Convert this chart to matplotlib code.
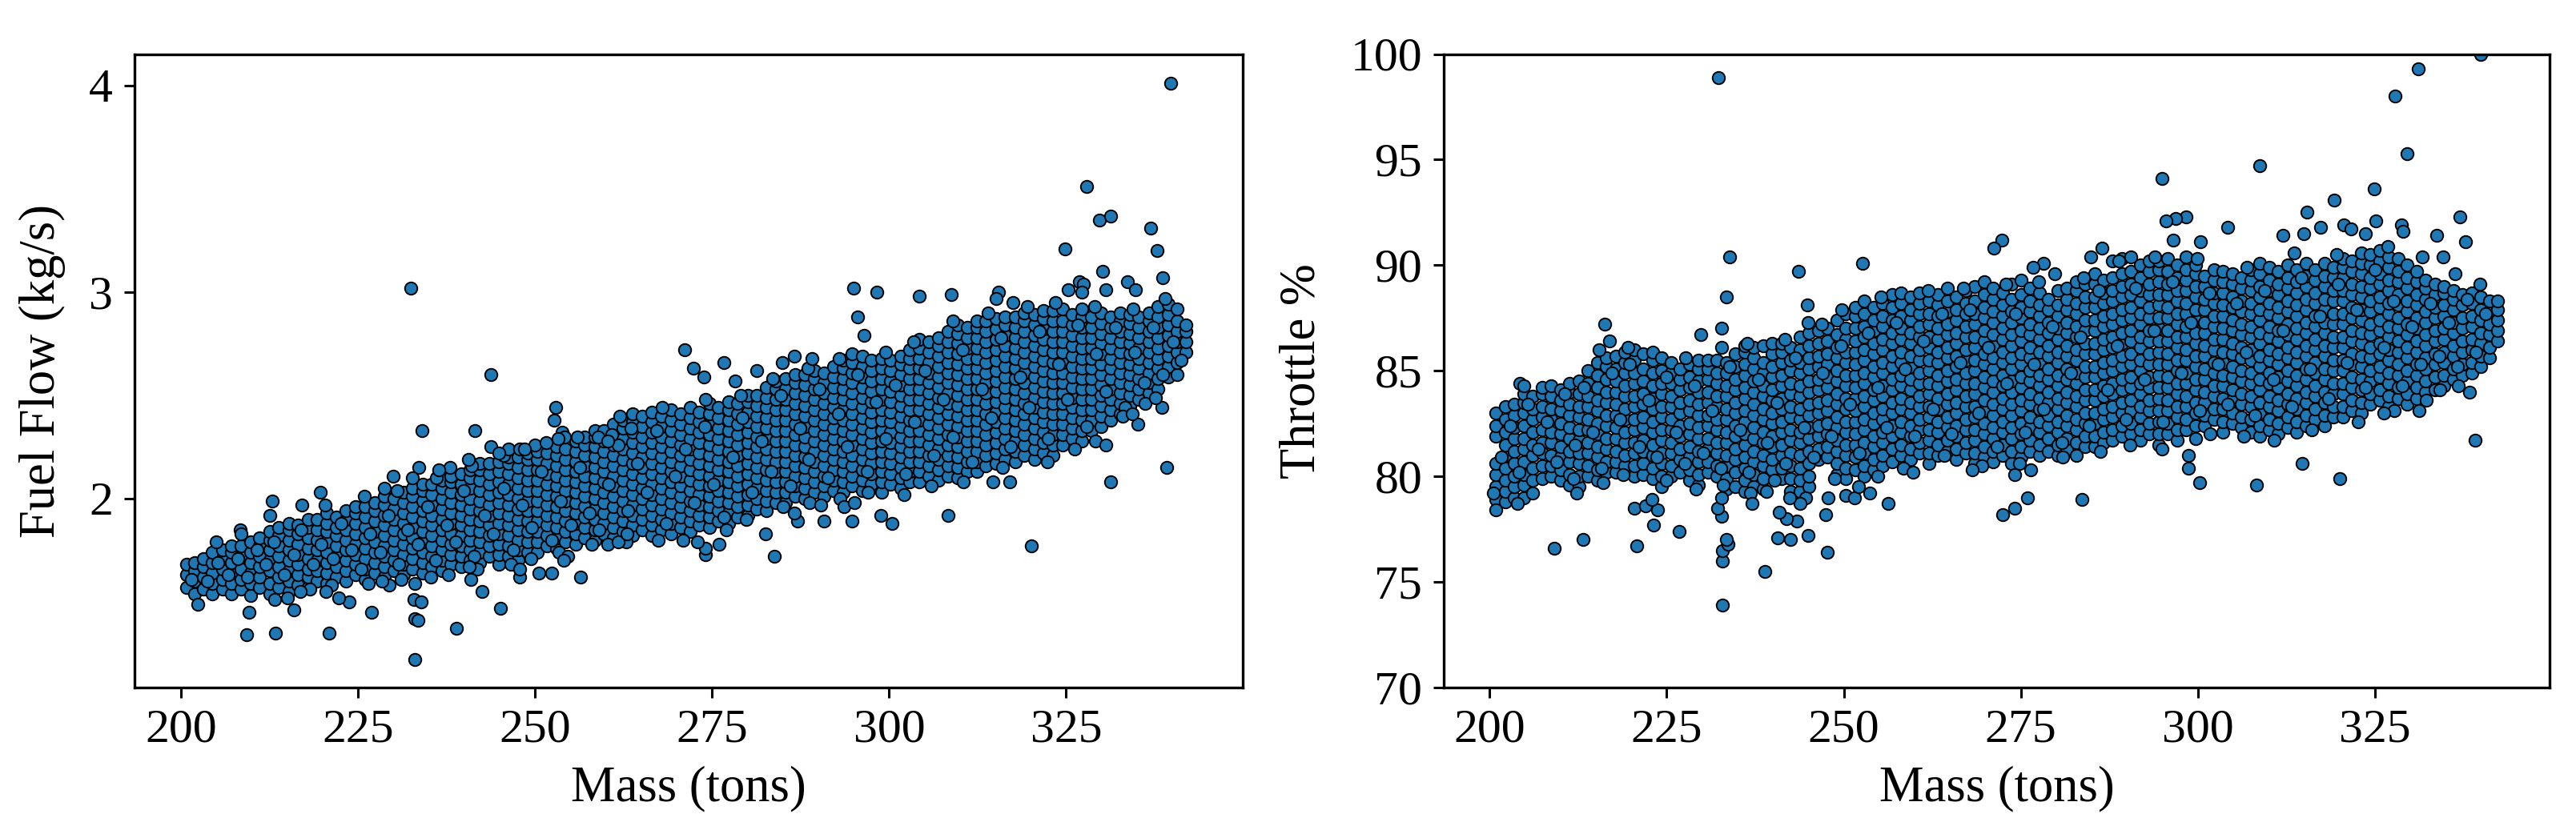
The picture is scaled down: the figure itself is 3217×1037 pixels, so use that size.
import matplotlib
matplotlib.use("Agg")
import matplotlib.pyplot as plt

# Values estimated by eye from the reference. Each column: (mass, value, value, ...)
fuel_cols_200 = [
 (200.8,1.57,1.63,1.68),(201.9,1.54,1.60,1.65,1.69),(203.1,1.56,1.62,1.67,1.71),
 (204.4,1.54,1.59,1.64,1.69,1.74),(205.8,1.56,1.61,1.66,1.71,1.75),(207.1,1.54,1.59,1.64,1.69,1.74,1.77),
 (208.5,1.56,1.61,1.66,1.72,1.77),(209.8,1.53,1.59,1.64,1.69,1.74,1.79),(211.1,1.57,1.62,1.67,1.72,1.77,1.81),
 (212.5,1.54,1.59,1.65,1.70,1.75,1.80,1.84),(213.8,1.57,1.62,1.67,1.72,1.77,1.82,1.86),(215.2,1.55,1.60,1.65,1.70,1.75,1.80,1.85,1.88),
 (216.5,1.58,1.63,1.68,1.73,1.78,1.83,1.87),(217.9,1.57,1.62,1.66,1.71,1.76,1.81,1.86,1.90),(219.2,1.60,1.65,1.70,1.75,1.80,1.85,1.90),
 (220.6,1.59,1.64,1.69,1.74,1.79,1.84,1.88,1.93),(221.9,1.62,1.67,1.72,1.77,1.82,1.86,1.91),(223.3,1.60,1.65,1.70,1.75,1.80,1.85,1.90,1.94),
]
fuel_cols_225 = [
 (224.6,1.63,1.68,1.73,1.78,1.83,1.88,1.93,1.96),(226.0,1.61,1.66,1.71,1.76,1.81,1.86,1.91,1.96),(227.3,1.64,1.69,1.74,1.79,1.84,1.89,1.94,1.98),
 (228.7,1.62,1.67,1.72,1.77,1.82,1.87,1.92,1.97,2.01),(230.0,1.65,1.70,1.75,1.80,1.85,1.90,1.95,2.00),(231.4,1.63,1.68,1.73,1.78,1.83,1.88,1.93,1.98,2.03),
 (232.7,1.66,1.71,1.76,1.81,1.86,1.91,1.96,2.01,2.05),(234.1,1.64,1.69,1.74,1.79,1.84,1.89,1.94,1.99,2.04,2.07),(235.4,1.67,1.72,1.77,1.82,1.87,1.92,1.97,2.02,2.07),
 (236.8,1.65,1.70,1.75,1.80,1.85,1.90,1.95,2.00,2.05,2.09),(238.1,1.68,1.73,1.78,1.83,1.88,1.93,1.98,2.03,2.08,2.11),(239.5,1.67,1.72,1.77,1.82,1.87,1.92,1.97,2.02,2.07,2.12),
 (240.8,1.70,1.75,1.80,1.85,1.90,1.95,2.00,2.05,2.10,2.14),(242.2,1.69,1.74,1.79,1.84,1.89,1.94,1.99,2.04,2.09,2.14,2.17),(243.5,1.72,1.77,1.82,1.87,1.92,1.97,2.02,2.07,2.12,2.17),
 (244.9,1.68,1.73,1.78,1.83,1.88,1.93,1.98,2.03,2.08,2.13,2.18),(246.2,1.72,1.77,1.82,1.87,1.92,1.97,2.02,2.07,2.12,2.17,2.20),(247.6,1.70,1.75,1.80,1.85,1.90,1.95,2.00,2.05,2.10,2.15,2.20),
 (248.9,1.74,1.79,1.84,1.89,1.94,1.99,2.04,2.09,2.14,2.19,2.22),
]
fuel_cols_250 = [
 (250.3,1.74,1.79,1.84,1.89,1.94,1.99,2.04,2.09,2.14,2.19,2.23),(251.6,1.77,1.82,1.87,1.92,1.97,2.02,2.07,2.12,2.17,2.22),(253.0,1.76,1.81,1.86,1.91,1.96,2.01,2.06,2.11,2.16,2.21,2.25),
 (254.3,1.79,1.84,1.89,1.94,1.99,2.04,2.09,2.14,2.19,2.24),(255.7,1.78,1.83,1.88,1.93,1.98,2.03,2.08,2.13,2.18,2.23,2.28),(257.0,1.81,1.86,1.91,1.96,2.01,2.06,2.11,2.16,2.21,2.26,2.30),
 (258.4,1.80,1.85,1.90,1.95,2.00,2.05,2.10,2.15,2.20,2.25,2.30,2.33),(259.7,1.83,1.88,1.93,1.98,2.03,2.08,2.13,2.18,2.23,2.28,2.33),(261.1,1.81,1.86,1.91,1.96,2.01,2.06,2.11,2.16,2.21,2.26,2.31,2.36),
 (262.4,1.84,1.89,1.94,1.99,2.04,2.09,2.14,2.19,2.24,2.29,2.34,2.38),(263.8,1.82,1.87,1.92,1.97,2.02,2.07,2.12,2.17,2.22,2.27,2.32,2.37,2.41),(265.1,1.85,1.90,1.95,2.00,2.05,2.10,2.15,2.20,2.25,2.30,2.35,2.40),
 (266.5,1.82,1.87,1.92,1.97,2.02,2.07,2.12,2.17,2.22,2.27,2.32,2.37,2.42),(267.8,1.85,1.90,1.95,2.00,2.05,2.10,2.15,2.20,2.25,2.30,2.35,2.40),(269.2,1.83,1.88,1.93,1.98,2.03,2.08,2.13,2.18,2.23,2.28,2.33,2.38,2.43),
 (270.5,1.86,1.91,1.96,2.01,2.06,2.11,2.16,2.21,2.26,2.31,2.36,2.41),(271.9,1.84,1.89,1.94,1.99,2.04,2.09,2.14,2.19,2.24,2.29,2.34,2.39,2.44),(273.2,1.87,1.92,1.97,2.02,2.07,2.12,2.17,2.22,2.27,2.32,2.37,2.42),
]
fuel_cols_275 = [
 (274.6,1.86,1.91,1.96,2.01,2.06,2.11,2.16,2.21,2.26,2.31,2.36,2.41,2.46),(275.9,1.89,1.94,1.99,2.04,2.09,2.14,2.19,2.24,2.29,2.34,2.39,2.44),(277.3,1.88,1.93,1.98,2.03,2.08,2.13,2.18,2.23,2.28,2.33,2.38,2.43,2.47),
 (278.6,1.91,1.96,2.01,2.06,2.11,2.16,2.21,2.26,2.31,2.36,2.41,2.46),(280.0,1.92,1.97,2.02,2.07,2.12,2.17,2.22,2.27,2.32,2.37,2.42,2.47,2.50),(281.3,1.95,2.00,2.05,2.10,2.15,2.20,2.25,2.30,2.35,2.40,2.45,2.50),
 (282.7,1.94,1.99,2.04,2.09,2.14,2.19,2.24,2.29,2.34,2.39,2.44,2.49,2.54),(284.0,1.98,2.03,2.08,2.13,2.18,2.23,2.28,2.33,2.38,2.43,2.48,2.53,2.57),(285.4,1.98,2.03,2.08,2.13,2.18,2.23,2.28,2.33,2.38,2.43,2.48,2.53,2.58),
 (286.7,2.01,2.06,2.11,2.16,2.21,2.26,2.31,2.36,2.41,2.46,2.51,2.56,2.60),(288.1,2.00,2.05,2.10,2.15,2.20,2.25,2.30,2.35,2.40,2.45,2.50,2.55,2.60),(289.4,2.03,2.08,2.13,2.18,2.23,2.28,2.33,2.38,2.43,2.48,2.53,2.58,2.62),
 (290.8,2.01,2.06,2.11,2.16,2.21,2.26,2.31,2.36,2.41,2.46,2.51,2.56,2.61),(292.1,2.04,2.09,2.14,2.19,2.24,2.29,2.34,2.39,2.44,2.49,2.54,2.59,2.64),(293.5,2.03,2.08,2.13,2.18,2.23,2.28,2.33,2.38,2.43,2.48,2.53,2.58,2.63,2.67),
 (294.8,2.06,2.11,2.16,2.21,2.26,2.31,2.36,2.41,2.46,2.51,2.56,2.61,2.66,2.70),(296.2,2.04,2.09,2.14,2.19,2.24,2.29,2.34,2.39,2.44,2.49,2.54,2.59,2.64,2.69),(297.5,2.07,2.12,2.17,2.22,2.27,2.32,2.37,2.42,2.47,2.52,2.57,2.62,2.67),
 (298.9,2.03,2.08,2.13,2.18,2.23,2.28,2.33,2.38,2.43,2.48,2.53,2.58,2.63,2.68),
]
fuel_cols_300 = [
 (300.2,2.07,2.12,2.17,2.22,2.27,2.32,2.37,2.42,2.47,2.52,2.57,2.62,2.67),(301.6,2.05,2.10,2.15,2.20,2.25,2.30,2.35,2.40,2.45,2.50,2.55,2.60,2.65,2.69),(302.9,2.08,2.13,2.18,2.23,2.28,2.33,2.38,2.43,2.48,2.53,2.58,2.63,2.68,2.72),
 (304.3,2.08,2.13,2.18,2.23,2.28,2.33,2.38,2.43,2.48,2.53,2.58,2.63,2.68,2.73,2.77),(305.6,2.11,2.16,2.21,2.26,2.31,2.36,2.41,2.46,2.51,2.56,2.61,2.66,2.71,2.76),(307.0,2.09,2.14,2.19,2.24,2.29,2.34,2.39,2.44,2.49,2.54,2.59,2.64,2.69,2.74,2.78),
 (308.3,2.11,2.16,2.21,2.26,2.31,2.36,2.41,2.46,2.51,2.56,2.61,2.66,2.71,2.76,2.81),(309.7,2.10,2.15,2.20,2.25,2.30,2.35,2.40,2.45,2.50,2.55,2.60,2.65,2.70,2.75,2.80,2.84),(311.0,2.13,2.18,2.23,2.28,2.33,2.38,2.43,2.48,2.53,2.58,2.63,2.68,2.73,2.78,2.83),
 (312.4,2.13,2.18,2.23,2.28,2.33,2.38,2.43,2.48,2.53,2.58,2.63,2.68,2.73,2.78,2.83,2.86),(313.7,2.16,2.21,2.26,2.31,2.36,2.41,2.46,2.51,2.56,2.61,2.66,2.71,2.76,2.81,2.86),(315.1,2.17,2.22,2.27,2.32,2.37,2.42,2.47,2.52,2.57,2.62,2.67,2.72,2.77,2.82,2.87),
 (316.4,2.19,2.24,2.29,2.34,2.39,2.44,2.49,2.54,2.59,2.64,2.69,2.74,2.79,2.84,2.88),(317.8,2.18,2.23,2.28,2.33,2.38,2.43,2.48,2.53,2.58,2.63,2.68,2.73,2.78,2.83,2.88),(319.1,2.21,2.26,2.31,2.36,2.41,2.46,2.51,2.56,2.61,2.66,2.71,2.76,2.81,2.86,2.90),
 (320.5,2.19,2.24,2.29,2.34,2.39,2.44,2.49,2.54,2.59,2.64,2.69,2.74,2.79,2.84,2.89),(321.8,2.22,2.27,2.32,2.37,2.42,2.47,2.52,2.57,2.62,2.67,2.72,2.77,2.82,2.87,2.91),(323.2,2.21,2.26,2.31,2.36,2.41,2.46,2.51,2.56,2.61,2.66,2.71,2.76,2.81,2.86,2.91),
]
fuel_cols_325 = [
 (324.5,2.26,2.31,2.36,2.41,2.46,2.51,2.56,2.61,2.66,2.71,2.76,2.81,2.86,2.92),(325.9,2.29,2.34,2.39,2.44,2.49,2.54,2.59,2.64,2.69,2.74,2.79,2.84,2.89),(327.2,2.28,2.33,2.38,2.43,2.48,2.53,2.58,2.63,2.68,2.73,2.78,2.83,2.88,2.92),
 (328.6,2.33,2.38,2.43,2.48,2.53,2.58,2.63,2.68,2.73,2.78,2.83,2.88),(329.9,2.35,2.40,2.45,2.50,2.55,2.60,2.65,2.70,2.75,2.80,2.85,2.90),(331.3,2.38,2.43,2.48,2.53,2.58,2.63,2.68,2.73,2.78,2.83,2.88),
 (332.6,2.41,2.46,2.51,2.56,2.61,2.66,2.71,2.76,2.81,2.86,2.90),(334.0,2.45,2.50,2.55,2.60,2.65,2.70,2.75,2.80,2.85,2.89),(335.3,2.48,2.53,2.58,2.63,2.68,2.73,2.78,2.83,2.88),
 (336.7,2.51,2.56,2.61,2.66,2.71,2.76,2.81,2.86,2.90),(338.0,2.53,2.58,2.63,2.68,2.73,2.78,2.83,2.88,2.93),(339.4,2.59,2.64,2.69,2.74,2.79,2.84,2.89,2.94),
 (340.7,2.60,2.66,2.71,2.76,2.81,2.86,2.92),(341.9,2.71,2.76,2.81,2.84),
]
fuel_outliers = [
 (339.8,4.01),(327.9,3.51),(329.7,3.35),(331.3,3.37),(337,3.31),(324.9,3.21),(337.9,3.20),(330.2,3.10),(338.7,3.07),(326.9,3.05),
 (333.7,3.05),(334.8,3.01),(327.5,3.04),(330.6,3.01),(325.3,3.01),(327.2,3.0),(295,3.02),(298.3,3.0),(304.3,2.98),(308.8,2.99),
 (315.4,3.0),(315.1,2.97),(317.5,2.95),(295.6,2.88),(296.5,2.79),(271.1,2.72),(272.4,2.63),(273.8,2.59),(276.7,2.66),(278.2,2.57),
 (281.3,2.62),(284.9,2.66),(286.6,2.69),(289.1,2.68),(320.1,1.77),(331.3,2.08),(339.2,2.15),(308.3,1.92),(283.8,1.72),(300.4,1.88),
 (298.8,1.92),(294.7,1.89),(290.8,1.89),(287.1,1.89),(286.6,1.93),(290.3,1.97),(293.6,1.96),(295.1,1.98),(274.1,1.73),(274.1,1.76),
 (276,1.78),(272.9,1.79),(282.5,1.83),(314.7,2.08),(317,2.08),(329.1,2.28),(330.6,2.26),(335.1,2.36),(334.3,2.41),(338.5,2.44),
 (337.6,2.49),(232.4,3.02),(243.7,2.60),(252.9,2.44),(252.7,2.38),(234,2.33),(241.5,2.33),(253.8,2.32),(254.2,2.30),(253.2,2.29),
 (251.5,2.27),(258.9,2.30),(260.8,2.31),(263.5,2.34),(260.2,2.28),(243.7,2.25),(246.2,2.24),(247.8,2.24),(248.5,2.24),(240.6,2.19),
 (244.9,2.22),(238,2.15),(236.4,2.14),(233.6,2.15),(229.9,2.11),(232.7,2.10),(212.8,1.99),(212.5,1.92),(217,1.97),(219.6,2.03),
 (220.3,1.97),(225.9,2.01),(228.7,2.05),(208.3,1.85),(208.4,1.83),(204.9,1.79),(202.3,1.49),(209.6,1.45),(209.2,1.34),(213.3,1.35),
 (215.9,1.46),(220.9,1.35),(226.9,1.45),(233,1.22),(233,1.42),(233.5,1.41),(232.9,1.51),(233.9,1.50),(233,1.59),(238.9,1.37),
 (245.1,1.47),(242.5,1.55),(240.9,1.61),(240.7,1.67),(223.7,1.50),(222.2,1.52),(213.2,1.51),(216.8,1.55),(220.4,1.55),(229.4,1.58),
 (228.3,1.60),(256.4,1.62),(252.3,1.64),(250.5,1.64),(247.8,1.62),(247.8,1.66),(260.2,1.78),(261.7,1.79),(263,1.83),(254.6,1.72),(254,1.70),
]
fuel_texture = [
 (201.4,1.61),(203.7,1.60),(205.2,1.69),(206.6,1.63),(208.0,1.71),(209.3,1.62),(210.7,1.75),(212.0,1.68),(213.1,1.79),(214.6,1.63),(215.9,1.73),(216.9,1.85),(218.6,1.68),(219.8,1.78),(221.4,1.71),(222.6,1.88),(224.0,1.75),(225.4,1.66),
 (226.7,1.83),(228.1,1.74),(229.3,1.92),(230.7,1.68),(232.0,1.85),(233.4,1.78),(234.8,1.96),(235.9,1.70),(237.5,1.87),(238.8,1.79),(239.9,2.04),(241.4,1.72),(242.8,1.92),(244.1,1.83),(245.6,2.05),(246.9,1.75),(248.2,1.97),(249.5,1.86),
 (250.9,2.13),(252.3,1.80),(253.6,1.99),(255.0,1.87),(256.3,2.15),(257.7,1.93),(259.0,1.85),(260.4,2.07),(261.7,2.26),(263.1,1.94),(264.4,2.17),(265.8,2.03),(267.1,2.33),(268.5,1.88),(269.8,2.11),(271.2,2.24),(272.5,1.98),(273.9,2.35),
 (275.2,2.07),(276.6,1.91),(277.9,2.20),(279.3,2.39),(280.6,2.03),(282.0,2.28),(283.3,2.13),(284.7,2.50),(286.0,2.06),(287.4,2.34),(288.7,2.19),(290.1,2.53),(291.4,2.10),(292.8,2.41),(294.1,2.25),(295.5,2.60),(296.9,2.13),(298.2,2.47),
 (299.5,2.29),(300.9,2.55),(302.3,2.12),(303.6,2.37),(305.0,2.62),(306.3,2.21),(307.7,2.48),(309.0,2.30),(310.4,2.72),(311.7,2.18),(313.1,2.53),(314.4,2.39),(315.8,2.78),(317.1,2.25),(318.5,2.59),(319.8,2.44),(321.2,2.81),(322.5,2.29),
 (323.9,2.65),(325.2,2.48),(326.6,2.84),(327.9,2.35),(329.3,2.70),(330.6,2.52),(332.0,2.83),(333.3,2.44),(334.7,2.71),(336.0,2.56),(337.3,2.83),(338.7,2.60),(340.1,2.76),(341.3,2.67),
 (215.0,1.52),(218.2,1.56),(221.2,1.58),(226.4,1.59),(231.1,1.61),(235.2,1.62),(237.7,1.63),(241.8,1.66),(246.6,1.68),(249.4,1.71),(253.4,1.74),(258.0,1.78),(262.9,1.79),(267.4,1.80),(270.9,1.80),(277.0,1.85),(279.8,1.90),(285.0,1.96),(288.8,1.98),(293.1,2.00),(297.0,2.03),(302.1,2.02),(305.9,2.06),(310.5,2.08),(316.0,2.15),(322.4,2.18),(326.2,2.24),(333.0,2.40),(336.2,2.46),
 (230.5,2.04),(236.0,2.10),(241.0,2.16),(245.5,2.21),(250.0,2.26),(256.0,2.30),(262.0,2.40),(268.0,2.44),(274.0,2.48),(279.0,2.50),(283.5,2.58),(288.5,2.63),(293.0,2.68),(299.5,2.71),(303.5,2.76),(309.0,2.86),(314.0,2.90),(319.5,2.93),(323.5,2.95),(329.0,2.93),(334.5,2.92),(339.0,2.97),
]

throttle_cols_200 = [
 (200.9,78.9,79.5,80.1,80.6,81.9,82.4,83.0),(202.2,78.8,79.3,79.8,80.4,81.0,81.5,82.1,82.7,83.3),(203.5,79.0,79.5,80.0,80.6,81.2,81.8,82.3,82.9,83.4),
 (204.8,79.0,79.6,80.1,80.7,81.3,81.8,82.4,83.0,83.5,83.9),(206.1,79.2,79.8,80.4,81.0,81.5,82.1,82.7,83.2,83.8),(207.4,79.9,80.5,81.1,81.6,82.2,82.8,83.3,83.9,84.2),
 (208.7,80.0,80.5,81.0,81.6,82.1,82.7,83.2,83.8,84.3),(210.0,79.8,80.3,80.9,81.4,82.0,82.5,83.1,83.6,84.1),(211.3,79.6,80.1,80.7,81.2,81.8,82.3,82.9,83.4,84.0,84.4),
 (212.6,79.5,80.0,80.6,81.1,81.7,82.2,82.8,83.3,83.9,84.5),(213.9,80.0,80.5,81.1,81.6,82.2,82.7,83.3,83.8,84.4,85.0),(215.2,79.8,80.3,80.9,81.4,82.0,82.5,83.1,83.6,84.2,84.8,85.4),
 (216.5,80.2,80.7,81.3,81.8,82.4,82.9,83.5,84.0,84.6,85.2,85.6),(217.8,80.2,80.7,81.2,81.8,82.3,82.9,83.4,84.0,84.5,85.1,85.7),(219.1,80.5,81.0,81.6,82.1,82.7,83.2,83.8,84.3,84.9,85.4,85.9),
 (220.4,80.0,80.5,81.1,81.6,82.2,82.7,83.3,83.8,84.4,84.9,85.5,86.0),(221.7,80.1,80.6,81.2,81.7,82.3,82.8,83.4,83.9,84.5,85.1,85.8),(223.0,79.9,80.4,81.0,81.5,82.1,82.6,83.2,83.7,84.3,84.9,85.5,85.9),
 (224.3,79.5,80.0,80.6,81.1,81.7,82.2,82.8,83.3,83.9,84.4,85.0,85.6),
]
throttle_cols_225 = [
 (225.6,80.0,80.5,81.1,81.6,82.2,82.7,83.3,83.8,84.4,84.9,85.4),(226.9,80.2,80.8,81.3,81.9,82.4,83.0,83.5,84.1,84.6,85.1),(228.2,79.8,80.3,80.9,81.4,82.0,82.5,83.1,83.6,84.2,84.7,85.3),
 (229.5,79.6,80.1,80.7,81.2,81.8,82.3,82.9,83.4,84.0,84.5,85.1,85.5),(230.8,80.2,80.7,81.3,81.8,82.4,82.9,83.5,84.0,84.6,85.1,85.5),(232.1,80.0,80.5,81.1,81.6,82.2,82.7,83.3,83.8,84.4,84.9,85.5),
 (233.4,79.4,79.9,80.5,81.0,81.6,82.1,82.7,83.2,83.8,84.3,84.9,85.4),(234.7,79.5,80.2,80.8,81.3,81.9,82.4,83.0,83.5,84.1,84.6,85.2,85.8),(236.0,79.3,79.8,80.4,80.9,81.5,82.0,82.6,83.1,83.7,84.2,84.8,85.3,85.9,86.2),
 (237.3,79.5,80.1,80.7,81.2,81.8,82.3,82.9,83.4,84.0,84.5,85.1,85.6,86.1),(238.6,79.4,79.9,80.5,81.0,81.6,82.1,82.7,83.2,83.8,84.3,84.9,85.4,86.2),(239.9,80.3,80.8,81.4,81.9,82.5,83.0,83.6,84.1,84.7,85.2,85.8,86.3),
 (241.2,79.9,80.4,81.0,81.5,82.1,82.6,83.2,83.7,84.3,84.8,85.4,85.9,86.3),(242.5,79.3,79.9,80.5,81.1,81.7,82.2,82.8,83.3,83.9,84.4,85.0,85.5,86.1),(243.8,79.3,79.8,80.4,81.0,81.6,82.1,82.7,83.2,83.8,84.3,84.9,85.4,86.0,86.6),
 (245.1,79.5,80.0,80.6,81.2,81.8,82.3,82.9,83.4,84.0,84.5,85.1,85.6,86.2,86.8),(246.4,80.8,81.3,81.9,82.4,83.0,83.5,84.1,84.6,85.2,85.7,86.3,86.9),(247.7,80.9,81.4,82.0,82.5,83.1,83.6,84.2,84.7,85.3,85.8,86.4,87.0),
 (249.0,80.1,80.6,81.2,81.7,82.3,82.8,83.4,83.9,84.5,85.0,85.6,86.1,86.7,87.4),
]
throttle_cols_250 = [
 (250.3,79.9,80.4,81.0,81.5,82.1,82.6,83.2,83.7,84.3,84.8,85.4,85.9,86.5,87.0,87.7),(251.6,80.3,80.9,81.5,82.0,82.6,83.1,83.7,84.2,84.8,85.3,85.9,86.4,87.0,87.6,88.0),(252.9,80.0,80.5,81.1,81.6,82.2,82.7,83.3,83.8,84.4,84.9,85.5,86.0,86.6,87.1,87.7,88.3),
 (254.2,80.3,80.8,81.4,81.9,82.5,83.0,83.6,84.1,84.7,85.2,85.8,86.3,86.9,87.4,88.0),(255.5,80.5,81.0,81.6,82.1,82.7,83.2,83.8,84.3,84.9,85.4,86.0,86.5,87.1,87.6,88.2),(256.8,80.7,81.3,81.9,82.4,83.0,83.5,84.1,84.6,85.2,85.7,86.3,86.8,87.4,88.0,88.6),
 (258.1,81.0,81.5,82.1,82.6,83.2,83.7,84.3,84.8,85.4,85.9,86.5,87.0,87.6,88.2,88.7),(259.4,80.8,81.3,81.9,82.4,83.0,83.5,84.1,84.6,85.2,85.7,86.3,86.8,87.4,87.9,88.5),(260.7,81.1,81.6,82.2,82.7,83.3,83.8,84.4,84.9,85.5,86.0,86.6,87.1,87.7,88.2,88.7),
 (262.0,80.6,81.1,81.7,82.2,82.8,83.3,83.9,84.4,85.0,85.5,86.1,86.6,87.2,87.7,88.3),(263.3,81.0,81.5,82.1,82.6,83.2,83.7,84.3,84.8,85.4,85.9,86.5,87.0,87.6,88.1,88.6),(264.6,81.2,81.7,82.3,82.8,83.4,83.9,84.5,85.0,85.6,86.1,86.7,87.2,87.8,88.3,88.9),
 (265.9,80.8,81.3,81.9,82.4,83.0,83.5,84.1,84.6,85.2,85.7,86.3,86.8,87.4,87.9,88.5),(267.2,81.1,81.6,82.2,82.7,83.3,83.8,84.4,84.9,85.5,86.0,86.6,87.1,87.7,88.2,88.8),(268.5,80.6,81.1,81.7,82.2,82.8,83.3,83.9,84.4,85.0,85.5,86.1,86.6,87.2,87.7,88.3,89.0),
 (269.8,80.9,81.4,82.0,82.5,83.1,83.6,84.2,84.7,85.3,85.8,86.4,86.9,87.5,88.0,88.6,89.2),(271.1,80.7,81.2,81.8,82.3,82.9,83.4,84.0,84.5,85.1,85.6,86.2,86.7,87.3,87.8,88.4,88.9),(272.4,81.0,81.5,82.1,82.6,83.2,83.7,84.3,84.8,85.4,85.9,86.5,87.0,87.6,88.1,88.7),
 (273.7,80.6,81.2,81.8,82.3,82.9,83.4,84.0,84.5,85.1,85.6,86.2,86.7,87.3,87.8,88.4,89.1),
]
throttle_cols_275 = [
 (275.0,80.9,81.4,82.0,82.5,83.1,83.6,84.2,84.7,85.3,85.8,86.4,86.9,87.5,88.0,88.6,89.3),(276.3,81.2,81.7,82.3,82.8,83.4,83.9,84.5,85.0,85.6,86.1,86.7,87.2,87.8,88.3,88.9),(277.6,81.0,81.5,82.1,82.6,83.2,83.7,84.3,84.8,85.4,85.9,86.5,87.0,87.6,88.1,88.7),
 (278.9,81.2,81.8,82.4,82.9,83.5,84.0,84.6,85.1,85.7,86.2,86.8,87.3,87.9,88.4),(280.2,81.0,81.5,82.1,82.6,83.2,83.7,84.3,84.8,85.4,85.9,86.5,87.0,87.6,88.1,88.8),(281.5,81.3,81.8,82.4,82.9,83.5,84.0,84.6,85.1,85.7,86.2,86.8,87.3,87.9,88.4,88.9),
 (282.8,81.0,81.6,82.2,82.7,83.3,83.8,84.4,84.9,85.5,86.0,86.6,87.1,87.7,88.2,88.8,89.2),(284.1,81.4,81.9,82.5,83.0,83.6,84.1,84.7,85.2,85.8,86.3,86.9,87.4,88.0,88.5,89.1),(285.4,81.4,81.9,82.5,83.0,83.6,84.1,84.7,85.2,85.8,86.3,86.9,87.4,88.0,88.5,89.1,89.6),
 (286.7,81.6,82.1,82.7,83.2,83.8,84.3,84.9,85.4,86.0,86.5,87.1,87.6,88.2,88.7,89.3),(288.0,81.7,82.2,82.8,83.3,83.9,84.4,85.0,85.5,86.1,86.6,87.2,87.7,88.3,88.8,89.4,90.2),(289.3,81.9,82.4,83.0,83.5,84.1,84.6,85.2,85.7,86.3,86.8,87.4,87.9,88.5,89.0,89.6,90.3),
 (290.6,82.0,82.5,83.1,83.6,84.2,84.7,85.3,85.8,86.4,86.9,87.5,88.0,88.6,89.1,89.7,90.4),(291.9,81.7,82.2,82.8,83.3,83.9,84.4,85.0,85.5,86.1,86.6,87.2,87.7,88.3,88.8,89.4,90.0),(293.2,82.0,82.5,83.1,83.6,84.2,84.7,85.3,85.8,86.4,86.9,87.5,88.0,88.6,89.1,89.7,90.2),
 (294.5,81.5,82.0,82.6,83.1,83.7,84.2,84.8,85.3,85.9,86.4,87.0,87.5,88.1,88.6,89.2,89.8,90.2),(295.8,82.0,82.5,83.1,83.6,84.2,84.7,85.3,85.8,86.4,86.9,87.5,88.0,88.6,89.1,89.7,90.3),(297.1,81.7,82.2,82.8,83.3,83.9,84.4,85.0,85.5,86.1,86.6,87.2,87.7,88.3,88.8,89.4,90.0),
 (298.4,82.2,82.7,83.3,83.8,84.4,84.9,85.5,86.0,86.6,87.1,87.7,88.2,88.8,89.3,89.8,90.4),(299.7,81.8,82.4,83.0,83.5,84.1,84.6,85.2,85.7,86.3,86.8,87.4,87.9,88.5,89.0,89.6,90.0),
]
throttle_cols_300 = [
 (301.0,82.4,82.9,83.5,84.0,84.6,85.1,85.7,86.2,86.8,87.3,87.9,88.4,89.0,89.5),(302.3,82.7,83.2,83.8,84.3,84.9,85.4,86.0,86.5,87.1,87.6,88.2,88.7,89.3,89.8),(303.6,82.1,82.6,83.2,83.7,84.3,84.8,85.4,85.9,86.5,87.0,87.6,88.1,88.7,89.2,89.7),
 (304.9,82.5,83.0,83.6,84.1,84.7,85.2,85.8,86.3,86.9,87.4,88.0,88.5,89.1,89.6),(306.2,82.3,82.8,83.4,83.9,84.5,85.0,85.6,86.1,86.7,87.2,87.8,88.3,88.9,89.4),(307.5,82.1,82.7,83.3,83.8,84.4,84.9,85.5,86.0,86.6,87.1,87.7,88.2,88.8,89.3,89.8),
 (308.8,81.9,82.4,83.0,83.5,84.1,84.6,85.2,85.7,86.3,86.8,87.4,87.9,88.5,89.0,89.6,90.1),(310.1,82.2,82.7,83.3,83.8,84.4,84.9,85.5,86.0,86.6,87.1,87.7,88.2,88.8,89.3,89.9),(311.4,82.0,82.5,83.1,83.6,84.2,84.7,85.3,85.8,86.4,86.9,87.5,88.0,88.6,89.1,89.7),
 (312.7,82.3,82.8,83.4,83.9,84.5,85.0,85.6,86.1,86.7,87.2,87.8,88.3,88.9,89.4,90.0),(314.0,82.1,82.6,83.2,83.7,84.3,84.8,85.4,85.9,86.5,87.0,87.6,88.1,88.7,89.2,89.8),(315.3,82.4,82.9,83.5,84.0,84.6,85.1,85.7,86.2,86.8,87.3,87.9,88.4,89.0,89.5,90.1),
 (316.6,82.7,83.2,83.8,84.3,84.9,85.4,86.0,86.5,87.1,87.6,88.2,88.7,89.3,89.8),(317.9,82.4,82.9,83.5,84.0,84.6,85.1,85.7,86.2,86.8,87.3,87.9,88.4,89.0,89.5,90.1),(319.2,82.8,83.3,83.9,84.4,85.0,85.5,86.1,86.6,87.2,87.7,88.3,88.8,89.4,89.9),
 (320.5,82.8,83.3,83.9,84.4,85.0,85.5,86.1,86.6,87.2,87.7,88.3,88.8,89.4,89.9,90.3),(321.8,83.1,83.6,84.2,84.7,85.3,85.8,86.4,86.9,87.5,88.0,88.6,89.1,89.7,90.2),(323.1,83.0,83.5,84.1,84.6,85.2,85.7,86.3,86.8,87.4,87.9,88.5,89.0,89.6,90.1,90.6),
 (324.4,83.4,83.9,84.5,85.0,85.6,86.1,86.7,87.2,87.8,88.3,88.9,89.4,90.0,90.5),
]
throttle_cols_325 = [
 (325.7,83.6,84.1,84.7,85.2,85.8,86.3,86.9,87.4,88.0,88.5,89.1,89.6,90.2,90.7),(327.0,83.3,83.8,84.4,84.9,85.5,86.0,86.6,87.1,87.7,88.2,88.8,89.3,89.9,90.4),(328.3,83.7,84.2,84.8,85.3,85.9,86.4,87.0,87.5,88.1,88.6,89.2,89.7,90.3),
 (329.6,83.4,83.9,84.5,85.0,85.6,86.1,86.7,87.2,87.8,88.3,88.9,89.4,90.0),(330.9,83.7,84.2,84.8,85.3,85.9,86.4,87.0,87.5,88.1,88.6,89.2,89.7),(332.2,84.0,84.5,85.1,85.6,86.2,86.7,87.3,87.8,88.4,88.9,89.3),
 (333.5,84.1,84.7,85.3,85.8,86.4,86.9,87.5,88.0,88.6,89.1),(334.8,84.3,84.8,85.4,85.9,86.5,87.0,87.6,88.1,88.7,89.0),(336.1,84.6,85.1,85.7,86.2,86.8,87.3,87.9,88.4,88.8),
 (337.4,84.8,85.3,85.9,86.4,87.0,87.5,88.1,88.6),(338.7,84.9,85.4,86.0,86.5,87.1,87.6,88.2,88.7),(340.0,85.2,85.7,86.3,86.8,87.4,87.9,88.5),
 (341.2,85.6,86.1,86.7,87.2,87.8,88.3),(342.3,86.4,86.9,87.4,87.9,88.3),
]
throttle_outliers = [
 (232.3,98.9),(233.9,90.4),(233.4,88.5),(232.7,87.0),(232.7,86.1),(243.6,89.7),(252.7,90.1),(244.8,88.1),(245,87.3),(229.8,86.7),
 (216.2,87.2),(216.9,86.4),(215.4,86),(204.2,84.4),(204.8,84.3),(232.9,73.9),(238.8,75.5),(232.9,76),(232.9,76.5),(233.7,76.8),
 (233.4,77),(247.7,76.4),(209.1,76.6),(213.2,77),(220.8,76.7),(226.8,77.4),(223.1,77.7),(223.7,78.4),(220.4,78.5),(222,78.6),
 (222.9,78.9),(232.8,78.1),(232.2,78.5),(232.7,79),(237,78.7),(240.7,77.1),(242.5,77),(245,77.2),(243.4,77.9),(241.9,78),
 (240.9,78.3),(247.5,78.2),(247.8,79),(256.3,78.7),(243.8,78.7),(242.4,79),(239.1,79.3),(250.3,79.1),(251.5,79),(253.7,79.2),
 (252.1,79.5),(259.8,80.2),(200.8,78.4),(200.5,79.2),(203.9,78.7),(212.3,79.2),(340,100),(331.1,99.3),(327.9,98),(329.6,95.3),
 (308.8,94.7),(295,94.1),(324.9,93.6),(319.3,93.1),(315.4,92.5),(337,92.3),(298.4,92.3),(296.9,92.2),(295.5,92.1),(325.1,92.1),
 (304.2,91.8),(317.4,91.8),(320.6,91.9),(321.7,91.7),(328.8,91.9),(329,91.6),(272.3,91.2),(271.2,90.8),(296.5,91.2),(300.4,91.1),
 (312,91.4),(315,91.5),(323.7,91.5),(333.8,91.4),(337.8,91.1),(334.7,90.4),(286.5,90.8),(284.9,90.4),(278.2,90.1),(276.7,89.9),
 (279.8,89.6),(339.2,81.7),(283.7,78.9),(276,79),(274.2,78.5),(272.5,78.2),(300.3,79.7),(308.3,79.6),(320.1,79.9),(314.7,80.6),
 (298.7,80.4),(298.7,81),(274.2,80.1),(276.4,80.3),(268.2,80.3),(331.3,83.1),(326.3,83),(334.2,84.1),(338.4,84),
]
throttle_texture = [
 (201.6,80.9),(202.9,82.4),(204.1,80.2),(205.4,83.4),(206.8,81.3),(208.1,82.6),(209.5,80.7),(210.6,83.9),(212.1,81.5),(213.3,84.2),(214.5,82.1),(215.8,80.4),(217.2,84.9),(218.4,82.7),(219.7,85.3),(221.1,81.4),(222.4,83.6),(223.6,80.9),
 (224.9,84.7),(226.3,82.1),(227.5,80.6),(228.9,84.3),(230.2,81.1),(231.4,83.1),(232.6,80.4),(233.9,85.2),(235.3,82.2),(236.6,80.2),(238.0,84.6),(239.2,81.6),(240.5,83.5),(241.8,80.6),(243.1,85.6),(244.4,82.3),(245.8,80.9),(247.0,84.9),
 (248.3,81.9),(249.6,86.2),(250.9,83.4),(252.2,81.1),(253.5,86.8),(254.8,84.2),(256.1,82.3),(257.4,87.3),(258.7,85.1),(260.0,81.9),(261.3,86.4),(262.6,83.2),(263.9,87.7),(265.2,82.0),(266.5,85.4),(267.8,87.9),(269.1,83.0),(270.4,86.1),
 (271.7,81.4),(273.0,84.4),(274.3,87.7),(275.6,82.1),(276.9,85.3),(278.2,83.2),(279.5,87.1),(280.8,81.6),(282.1,84.9),(283.4,86.6),(284.7,82.4),(286.0,88.8),(287.3,84.1),(288.6,86.2),(289.9,82.7),(291.2,88.9),(292.5,84.6),(293.8,86.9),
 (295.1,82.6),(296.4,89.2),(297.7,84.9),(299.0,87.3),(300.3,83.1),(301.6,88.7),(302.9,85.3),(304.2,83.4),(305.5,88.2),(306.8,85.9),(308.1,82.9),(309.4,88.8),(310.7,84.6),(312.0,86.9),(313.3,83.3),(314.6,89.4),(315.9,85.1),(317.2,87.6),
 (318.5,83.7),(319.8,89.1),(321.1,85.4),(322.4,87.9),(323.7,84.2),(325.0,89.8),(326.3,86.1),(327.6,88.3),(328.9,84.3),(330.2,87.1),(331.5,85.3),(332.8,88.2),(334.1,85.7),(335.4,87.3),(336.7,85.2),(338.0,88.4),(339.3,85.9),(340.6,87.7),
 (211.8,79.9),(216.0,79.7),(218.8,80.1),(225.0,79.8),(229.1,79.4),(233.0,79.6),(236.8,79.2),(240.2,79.8),(244.6,79.0),(248.7,79.9),(254.8,80.0),(258.4,80.4),(264.2,81.0),(269.5,80.5),(274.8,80.6),(280.9,80.9),(286.2,81.2),(290.4,81.5),(295.0,81.3),(301.7,82.0),(306.5,81.9),(310.8,81.7),(316.1,82.2),(322.7,82.6),(327.8,83.1),(332.3,83.6),(336.8,84.3),
 (219.5,86.1),(227.7,85.6),(236.4,86.3),(241.7,86.5),(246.9,87.2),(249.7,87.9),(255.2,88.5),(261.9,88.8),(266.9,88.9),(272.9,89.1),(277.5,89.2),(283.9,89.4),(288.9,90.2),(293.9,90.4),(299.9,90.3),(306.9,89.9),(313.6,90.6),(319.6,90.5),(326.8,90.9),(331.7,90.4),(336.3,89.6),(339.9,89.1),
]

mass_ticks = [200, 225, 250, 275, 300, 325]
fuel_ticks = [2, 3, 4]
throttle_ticks = [70, 75, 80, 85, 90, 95, 100]


def unpack(col_groups, extras):
    xs, ys = [], []
    for group in col_groups:
        for col in group:
            xs.extend([col[0]] * (len(col) - 1))
            ys.extend(col[1:])
    for group in extras:
        for x, y in group:
            xs.append(x)
            ys.append(y)
    return xs, ys


plt.rcParams["font.family"] = ["Liberation Serif", "DejaVu Serif"]
W, H = 3217, 1037
fig = plt.figure(figsize=(W / 200, H / 200), dpi=200)


def panel(left, right, xs, ys, xlim, ylim, yticks, ylabel, ylab_x):
    ax = fig.add_axes([left / W, 1 - 859 / H, (right - left) / W, (859 - 67.5) / H])
    ax.scatter(xs, ys, s=31, c="#1f77b4", edgecolors="black", linewidths=0.7, clip_on=True)
    ax.set_xlim(*xlim)
    ax.set_ylim(*ylim)
    ax.set_xticks(mass_ticks)
    ax.set_yticks(yticks)
    ax.tick_params(labelsize=21.5, length=4.7, width=1.1, pad=5)
    for s in ax.spines.values():
        s.set_linewidth(1.2)
    ax.set_xlabel("Mass (tons)", fontsize=22.5, labelpad=6)
    ax.set_ylabel(ylabel, fontsize=22.5)
    ax.yaxis.set_label_coords(ylab_x, 0.5)
    return ax


fx, fy = unpack([fuel_cols_200, fuel_cols_225, fuel_cols_250, fuel_cols_275, fuel_cols_300, fuel_cols_325], [fuel_texture, fuel_outliers])
tx, ty = unpack([throttle_cols_200, throttle_cols_225, throttle_cols_250, throttle_cols_275, throttle_cols_300, throttle_cols_325], [throttle_texture, throttle_outliers])
panel(168, 1551.5, fx, fy, (193.4, 349.9), (1.085, 4.153), fuel_ticks, "Fuel Flow (kg/s)", -0.062)
panel(1803, 3184, tx, ty, (193.5, 349.7), (70, 100), throttle_ticks, "Throttle %", -0.107)
fig.savefig("out.png", dpi=200)
